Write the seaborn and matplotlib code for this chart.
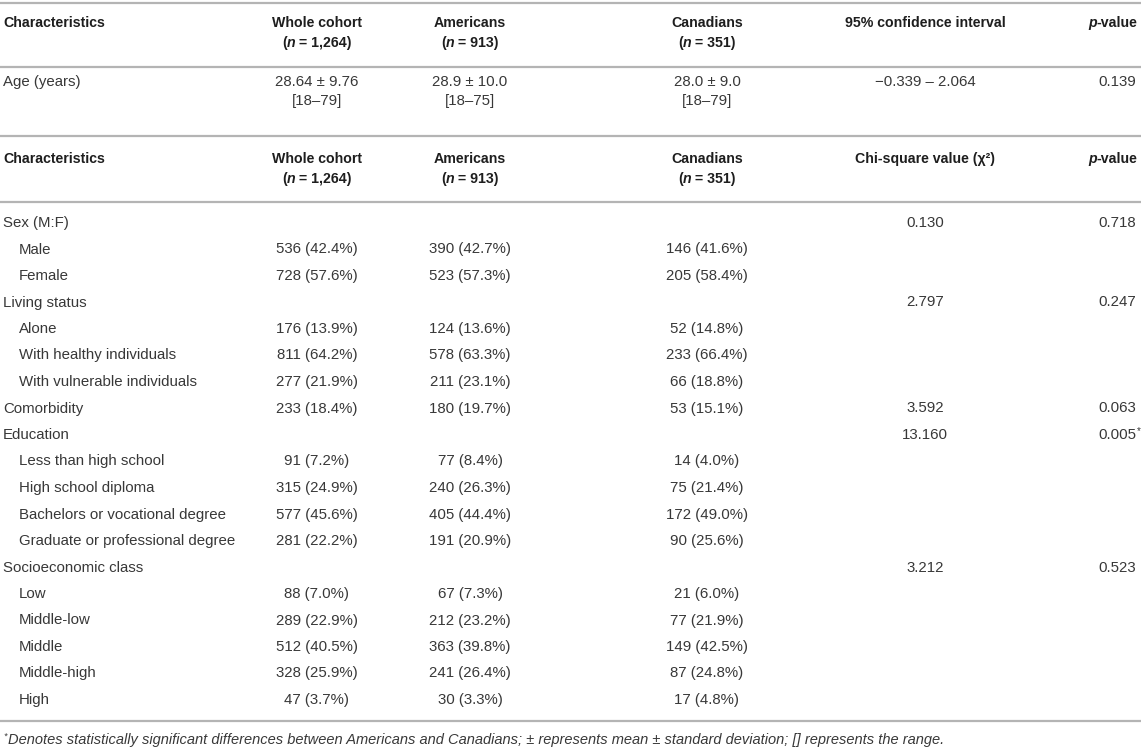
import seaborn as sns
import matplotlib.pyplot as plt

# table content
header_cols = ['Whole cohort', 'Americans', 'Canadians']
header_ns = ['1,264', '913', '351']

age_label = 'Age (years)'
age_mean = ['28.64 \u00b1 9.76', '28.9 \u00b1 10.0', '28.0 \u00b1 9.0']
age_range = ['[18\u201379]', '[18\u201375]', '[18\u201379]']
age_ci = '\u22120.339 \u2013 2.064'
age_p = '0.139'

row_labels = ['Sex (M:F)', 'Male', 'Female', 'Living status', 'Alone',
              'With healthy individuals', 'With vulnerable individuals',
              'Comorbidity', 'Education', 'Less than high school',
              'High school diploma', 'Bachelors or vocational degree',
              'Graduate or professional degree', 'Socioeconomic class',
              'Low', 'Middle-low', 'Middle', 'Middle-high', 'High']
row_indent = [0, 1, 1, 0, 1, 1, 1, 0, 0, 1, 1, 1, 1, 0, 1, 1, 1, 1, 1]
whole = ['', '536 (42.4%)', '728 (57.6%)', '', '176 (13.9%)', '811 (64.2%)',
         '277 (21.9%)', '233 (18.4%)', '', '91 (7.2%)', '315 (24.9%)',
         '577 (45.6%)', '281 (22.2%)', '', '88 (7.0%)', '289 (22.9%)',
         '512 (40.5%)', '328 (25.9%)', '47 (3.7%)']
americans = ['', '390 (42.7%)', '523 (57.3%)', '', '124 (13.6%)', '578 (63.3%)',
             '211 (23.1%)', '180 (19.7%)', '', '77 (8.4%)', '240 (26.3%)',
             '405 (44.4%)', '191 (20.9%)', '', '67 (7.3%)', '212 (23.2%)',
             '363 (39.8%)', '241 (26.4%)', '30 (3.3%)']
canadians = ['', '146 (41.6%)', '205 (58.4%)', '', '52 (14.8%)', '233 (66.4%)',
             '66 (18.8%)', '53 (15.1%)', '', '14 (4.0%)', '75 (21.4%)',
             '172 (49.0%)', '90 (25.6%)', '', '21 (6.0%)', '77 (21.9%)',
             '149 (42.5%)', '87 (24.8%)', '17 (4.8%)']
chi_vals = ['0.130', '', '', '2.797', '', '', '', '3.592', '13.160', '', '', '',
            '', '3.212', '', '', '', '', '']
p_vals = ['0.718', '', '', '0.247', '', '', '', '0.063', '0.005', '', '', '',
          '', '0.523', '', '', '', '', '']
p_signif = [False] * 8 + [True] + [False] * 10

footnote = ('Denotes statistically significant differences between Americans and '
            'Canadians; \u00b1 represents mean \u00b1 standard deviation; [] represents the range.')

sns.set_theme(style='white')
plt.rcParams['font.family'] = ['Liberation Sans', 'DejaVu Sans']

W, H = 1143, 751
fig = plt.figure(figsize=(W / 100, H / 100), dpi=100)
ax = fig.add_axes([0, 0, 1, 1])
ax.set_xlim(0, W)
ax.set_ylim(H, 0)
ax.axis('off')
renderer = fig.canvas.get_renderer()

TXT = '#383838'
BOLD = '#1e1e1e'
LINE = '#b4b4b4'
FS = 10.8
FSB = 10.2

x_label = 3
x_cols = [317, 470, 707]
x_stat = 925
x_p = 1117


def segs(x, y, parts, ha='center', size=FSB, color=BOLD):
    # draw a run of text pieces with mixed weight/style
    objs = []
    for txt, weight, style in parts:
        t = ax.text(0, y, txt, fontsize=size, fontweight=weight, fontstyle=style,
                    color=color, va='center', ha='left')
        objs.append(t)
    widths = [t.get_window_extent(renderer).width for t in objs]
    total = sum(widths)
    start = x - total / 2 if ha == 'center' else (x - total if ha == 'right' else x)
    for t, w in zip(objs, widths):
        t.set_x(start)
        start += w


def header(y1, y2, stat_title):
    ax.text(x_label, y1, 'Characteristics', fontsize=FSB, fontweight='bold',
            color=BOLD, va='center')
    for xc, name, n in zip(x_cols, header_cols, header_ns):
        ax.text(xc, y1, name, fontsize=FSB, fontweight='bold', color=BOLD,
                ha='center', va='center')
        segs(xc, y2, [('(', 'bold', 'normal'), ('n', 'bold', 'italic'),
                      (' = ' + n + ')', 'bold', 'normal')])
    ax.text(x_stat, y1, stat_title, fontsize=FSB, fontweight='bold', color=BOLD,
            ha='center', va='center')
    segs(x_p - 4, y1, [('p', 'bold', 'italic'), ('-value', 'bold', 'normal')])


def hline(y):
    ax.plot([0, 1141], [y, y], color=LINE, lw=1.6, solid_capstyle='butt')


hline(3)
header(23, 43, '95% confidence interval')
hline(67)

ax.text(x_label, 82, age_label, fontsize=FS, color=TXT, va='center')
for xc, m, r in zip(x_cols, age_mean, age_range):
    ax.text(xc, 82, m, fontsize=FS, color=TXT, ha='center', va='center')
    ax.text(xc, 101, r, fontsize=FS, color=TXT, ha='center', va='center')
ax.text(x_stat, 82, age_ci, fontsize=FS, color=TXT, ha='center', va='center')
ax.text(x_p, 82, age_p, fontsize=FS, color=TXT, ha='center', va='center')

hline(136)
header(159, 179, 'Chi-square value (\u03c7\u00b2)')
hline(202)

y0, dy = 223, 26.5
for i, lab in enumerate(row_labels):
    y = y0 + i * dy
    ax.text(x_label + 16 * row_indent[i], y, lab, fontsize=FS, color=TXT, va='center')
    for xc, col in zip(x_cols, [whole, americans, canadians]):
        ax.text(xc, y, col[i], fontsize=FS, color=TXT, ha='center', va='center')
    ax.text(x_stat, y, chi_vals[i], fontsize=FS, color=TXT, ha='center', va='center')
    if p_vals[i]:
        t = ax.text(x_p, y, p_vals[i], fontsize=FS, color=TXT, ha='center', va='center')
        if p_signif[i]:
            bb = t.get_window_extent(renderer)
            ax.text(bb.x1 + 0.5, y - 4, '*', fontsize=7, color=TXT, ha='left', va='center')

hline(y0 + 18 * dy + 21)

ax.text(3, 736, '*', fontsize=6.5, color=TXT, fontstyle='italic', va='center')
ax.text(8, 740, footnote, fontsize=10.55, color=TXT, fontstyle='italic', va='center')

fig.savefig('out.png', dpi=100)
